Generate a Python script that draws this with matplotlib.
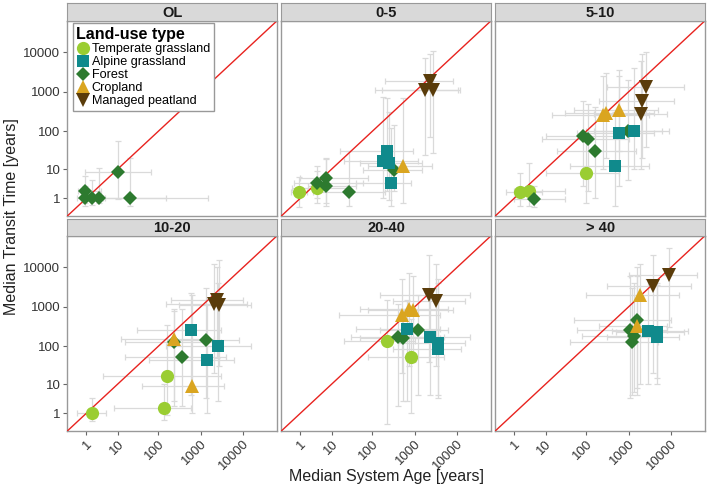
import numpy as np
import matplotlib
matplotlib.use('Agg')
from matplotlib import pyplot as plt
from matplotlib.lines import Line2D

plt.rcParams['font.family'] = ['Liberation Sans', 'DejaVu Sans']

land_use = ['Temperate grassland', 'Alpine grassland', 'Forest', 'Cropland', 'Managed peatland']
colors = ['#9acd32', '#108a8c', '#2d7a2f', '#daa520', '#5a3c0a']
markers = ['o', 's', 'D', '^', 'v']
msizes = [9.5, 8, 7, 10, 10]

panel_names = ['OL', '0-5', '5-10', '10-20', '20-40', '> 40']
tick_vals = [1, 10, 100, 1000, 10000]

# land-use, age, age lo, age hi, transit time, tt lo, tt hi
ol = [
    ('Forest', 10, 0.9, 65, 8.5, 0.9, 56),
    ('Forest', 21, 3, 1500, 1, 0.3, 20),
    ('Forest', 0.87, 0.3, 3.5, 2, 0.5, 6.5),
    ('Forest', 0.9, 0.2, 4, 1, 0.3, 3),
    ('Forest', 1.7, 0.6, 4.5, 1, 0.4, 4.8),
    ('Forest', 3, 1.5, 150, 1, 0.5, 10.6),
]
d0_5 = [
    ('Temperate grassland', 0.9, 0.2, 1.9, 1.9, 0.2, 6),
    ('Temperate grassland', 3.9, 0.3, 25, 2.7, 0.5, 9),
    ('Forest', 3.9, 0.4, 60, 4, 1, 12),
    ('Forest', 7.1, 1, 80, 5.5, 0.5, 19),
    ('Forest', 7.1, 2, 40, 3, 0.3, 20),
    ('Forest', 28, 3, 200, 1.9, 0.3, 30),
    ('Forest', 323, 60, 1500, 9.5, 2, 140),
    ('Alpine grassland', 224, 16, 900, 30, 2, 700),
    ('Alpine grassland', 175, 20, 1200, 17, 1, 750),
    ('Alpine grassland', 250, 50, 1500, 15, 0.8, 300),
    ('Alpine grassland', 270, 40, 800, 4, 0.3, 120),
    ('Cropland', 536, 80, 2500, 12, 0.5, 700),
    ('Managed peatland', 1745, 115, 11600, 1130, 24, 7200),
    ('Managed peatland', 2735, 165, 10600, 1130, 27, 10600),
    ('Managed peatland', 2290, 200, 8000, 1835, 70, 9000),
]
d5_10 = [
    ('Temperate grassland', 1.75, 0.3, 8, 1.9, 0.3, 8),
    ('Temperate grassland', 3.6, 1, 30, 2.1, 0.3, 15),
    ('Temperate grassland', 98, 10, 600, 7.7, 0.5, 90),
    ('Forest', 4.9, 1, 30, 0.9, 0.2, 3),
    ('Forest', 84, 10, 700, 77, 3, 600),
    ('Forest', 111, 8, 1000, 62, 2, 500),
    ('Forest', 160, 20, 1500, 31, 1, 400),
    ('Forest', 981, 100, 6000, 98, 5, 2000),
    ('Alpine grassland', 602, 60, 4000, 89, 3, 2500),
    ('Alpine grassland', 1336, 150, 9000, 102, 10, 4000),
    ('Alpine grassland', 476, 40, 3000, 12, 0.3, 300),
    ('Cropland', 243, 15, 3000, 261, 10, 2500),
    ('Cropland', 291, 30, 4000, 289, 20, 3000),
    ('Cropland', 602, 50, 5000, 350, 30, 3500),
    ('Managed peatland', 2560, 300, 20000, 1324, 40, 10000),
    ('Managed peatland', 2030, 200, 12000, 570, 20, 9000),
    ('Managed peatland', 1950, 150, 8000, 272, 10, 6000),
]
d10_20 = [
    ('Temperate grassland', 1.78, 0.2, 5, 1, 0.3, 4),
    ('Temperate grassland', 163, 4, 3000, 17, 0.8, 350),
    ('Temperate grassland', 136, 8, 600, 1.8, 0.4, 10),
    ('Forest', 238, 15, 3000, 124, 3, 900),
    ('Forest', 1308, 200, 8000, 145, 4, 3000),
    ('Forest', 366, 15, 4000, 54, 2, 900),
    ('Alpine grassland', 579, 30, 3000, 261, 5, 2200),
    ('Alpine grassland', 2510, 150, 15000, 102, 3, 4000),
    ('Alpine grassland', 1380, 60, 6000, 44, 1, 1200),
    ('Cropland', 238, 12, 2000, 151, 2, 800),
    ('Cropland', 611, 40, 3500, 9.1, 1, 2000),
    ('Managed peatland', 2050, 150, 12000, 1196, 20, 12000),
    ('Managed peatland', 2735, 300, 15000, 1126, 30, 15000),
    ('Managed peatland', 2375, 200, 10000, 1513, 50, 10000),
]
d20_40 = [
    ('Temperate grassland', 224, 20, 1000, 139, 0.1, 1500),
    ('Temperate grassland', 802, 80, 5000, 54, 1, 500),
    ('Forest', 409, 30, 5000, 170, 2, 1200),
    ('Forest', 536, 50, 4000, 160, 3, 900),
    ('Forest', 1212, 150, 6000, 261, 5, 2000),
    ('Alpine grassland', 644, 40, 4000, 272, 3, 1500),
    ('Alpine grassland', 2290, 200, 20000, 170, 5, 3000),
    ('Alpine grassland', 3590, 400, 15000, 119, 4, 5000),
    ('Alpine grassland', 3475, 300, 12000, 84, 5, 4000),
    ('Cropland', 492, 15, 4000, 629, 20, 5000),
    ('Cropland', 744, 50, 6000, 878, 30, 7000),
    ('Cropland', 924, 80, 8000, 845, 40, 6000),
    ('Managed peatland', 2200, 150, 20000, 2027, 40, 20000),
    ('Managed peatland', 3170, 300, 15000, 1370, 30, 12000),
]
d40 = [
    ('Forest', 1549, 50, 10000, 451, 5, 10000),
    ('Forest', 1076, 60, 8000, 261, 4, 6000),
    ('Forest', 1180, 40, 5000, 131, 5, 3000),
    ('Forest', 1310, 80, 6000, 186, 6, 4000),
    ('Cropland', 1853, 100, 15000, 2027, 10, 12000),
    ('Cropland', 1600, 200, 8000, 317, 8, 6000),
    ('Alpine grassland', 2900, 400, 25000, 236, 10, 5000),
    ('Alpine grassland', 4580, 500, 20000, 223, 15, 3500),
    ('Alpine grassland', 4580, 300, 15000, 170, 10, 4000),
    ('Managed peatland', 3810, 300, 30000, 3290, 20, 20000),
    ('Managed peatland', 9080, 1000, 40000, 6260, 300, 30000),
]
panel_data = [ol, d0_5, d5_10, d10_20, d20_40, d40]


def fwd(v):
    return np.log10(np.clip(np.asarray(v, dtype=float) + 1, 1e-6, None))


def inv(t):
    return 10 ** np.asarray(t, dtype=float) - 1


lims = (inv(-0.145), inv(4.80))

W, H = 709, 490
fig = plt.figure(figsize=(W / 100, H / 100), dpi=100)

col_left = [67.3, 281.3, 495.2]
col_w = 209.8
row_bottom = [216, 431]
row_h = 195.3
strip_h = 17.2
border = '#999999'

for i, (name, rows) in enumerate(zip(panel_names, panel_data)):
    r, c = divmod(i, 3)
    x0 = col_left[c]
    yb = row_bottom[r]
    ax = fig.add_axes([x0 / W, 1 - yb / H, col_w / W, row_h / H])
    st = fig.add_axes([x0 / W, 1 - (yb - row_h) / H, col_w / W, strip_h / H])
    st.set_facecolor('#d9d9d9')
    st.set_xticks([])
    st.set_yticks([])
    for s in st.spines.values():
        s.set_color(border)
    st.text(0.5, 0.45, name, ha='center', va='center', fontsize=10.5,
            fontweight='bold', color='#1a1a1a', transform=st.transAxes)

    ax.set_xscale('function', functions=(fwd, inv))
    ax.set_yscale('function', functions=(fwd, inv))
    ax.set_xlim(lims)
    ax.set_ylim(lims)

    for g, x, xl, xh, y, yl, yh in rows:
        ax.errorbar(x, y, xerr=[[x - xl], [xh - x]], yerr=[[y - yl], [yh - y]],
                    fmt='none', ecolor='#dadada', elinewidth=0.9, capsize=2.5,
                    capthick=0.9, zorder=2)
    ax.plot(lims, lims, color='#e8231f', lw=1, zorder=3)
    for g, x, xl, xh, y, yl, yh in rows:
        k = land_use.index(g)
        ax.plot(x, y, marker=markers[k], color=colors[k], ms=msizes[k],
                ls='none', mew=0, zorder=4)

    ax.set_xticks(tick_vals)
    ax.set_yticks(tick_vals)
    ax.minorticks_off()
    ax.tick_params(length=3, color='#666666', labelsize=9.5, labelcolor='#333333', pad=2)
    if r == 1:
        ax.set_xticklabels([str(v) for v in tick_vals], rotation=45, ha='right',
                           va='top', rotation_mode='anchor')
    else:
        ax.tick_params(axis='x', bottom=False, labelbottom=False)
    if c == 0:
        ax.set_yticklabels([str(v) for v in tick_vals])
    else:
        ax.tick_params(axis='y', left=False, labelleft=False)
    for s in ax.spines.values():
        s.set_color(border)
        s.set_linewidth(1)

handles = [Line2D([], [], marker=m, color=col, ms=ms, ls='none', mew=0)
           for m, col, ms in zip(markers, colors, msizes)]
leg = fig.legend(handles, land_use, loc='upper left',
                 bbox_to_anchor=(72.7 / W, 1 - 23.3 / H), title='Land-use type',
                 fontsize=9.1, title_fontproperties={'weight': 'bold', 'size': 11.5},
                 alignment='left', frameon=True, fancybox=False, edgecolor=border,
                 framealpha=1, labelspacing=0.08, handletextpad=0.2, handlelength=1.0,
                 borderpad=0.3, borderaxespad=0)
leg.get_frame().set_linewidth(1)

fig.text(386 / W, 1 - 476 / H, 'Median System Age [years]', ha='center', va='center',
         fontsize=11.5, color='#222222')
fig.text(12 / W, 1 - 217 / H, 'Median Transit Time [years]', ha='center', va='center',
         rotation=90, fontsize=11.5, color='#222222')

fig.savefig('out.png', dpi=100)
